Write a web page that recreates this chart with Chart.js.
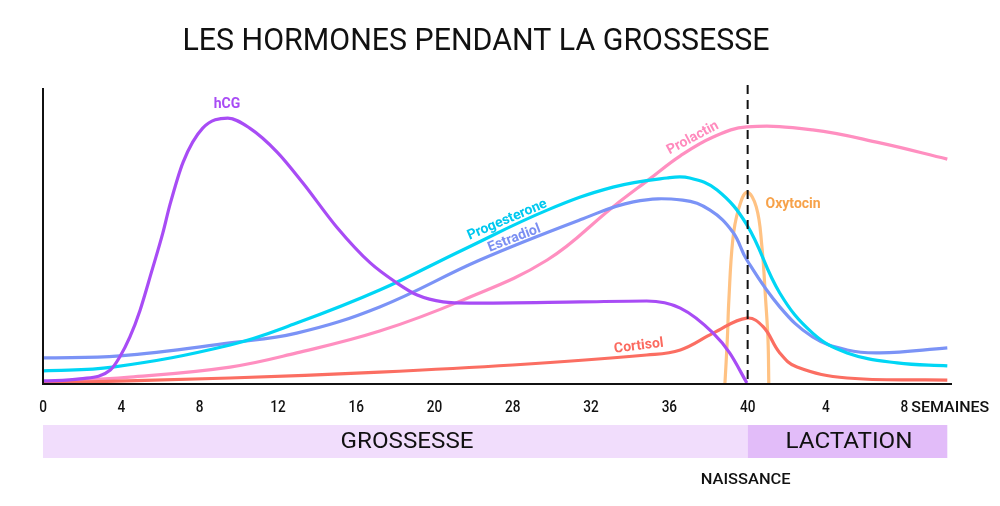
<!DOCTYPE html>
<html>
<head>
<meta charset="utf-8">
<script src="https://cdn.jsdelivr.net/npm/chart.js@4/dist/chart.umd.min.js"></script>
<style>
  html, body { margin: 0; padding: 0; background: #fff; }
  #wrap { width: 1000px; height: 506px; }
</style>
</head>
<body>
<div id="wrap"><canvas id="graph" width="1000" height="506"></canvas></div>
<script>
// x = position on the axis (one unit per tick), y = relative level 0-100
const tickLabels = ['0', '4', '8', '12', '16', '20', '28', '32', '36', '40', '4', '8'];
const phases = ['GROSSESSE', 'LACTATION'];

const hcg = [[0,0.7],[0.47,1.4],[0.86,4.4],[0.98,8.8],[1.11,15.6],[1.24,24.7],[1.39,38],[1.53,50.8],[1.62,60.3],[1.79,74.9],[2.04,86.4],[2.36,89.8],[2.64,86.4],[2.99,78.3],[3.32,67.8],[3.75,52.9],[4.18,40.7],[4.52,33.9],[4.78,29.8],[5.11,27.5],[5.45,27.1],[6.86,27.5],[7.71,27.8],[8.14,25.4],[8.56,16.9],[8.77,10.2],[8.99,0]];
const progesterone = [[0,4.1],[0.89,5.4],[2.39,12.9],[3.24,20.3],[4.3,31.5],[5.36,45.1],[6.44,58.6],[7.28,66.4],[7.97,69.5],[8.26,69.5],[8.61,65.4],[8.99,53.6],[9.41,30.5],[9.83,16.9],[10.27,10.2],[10.91,6.8],[11.55,5.8]];
const estradiol = [[0,8.5],[0.98,9.2],[2.39,13.6],[3.24,16.9],[4.3,25.8],[5.58,41.7],[6.86,55.3],[7.54,61.4],[8.17,62],[8.52,58.6],[8.81,51.2],[8.99,41.7],[9.41,25.8],[9.83,15.6],[10.27,11.2],[10.69,10.2],[11.55,11.9]];
const prolactin = [[0,0.3],[1.11,2],[2.39,5.4],[3.24,10.2],[4.3,17.6],[5.36,28.1],[6.44,41.7],[7.28,59.7],[7.75,69.2],[8.14,77],[8.56,83.4],[8.99,86.8],[9.83,85.8],[10.69,81.4],[11.55,75.9]];
const cortisol = [[0,0],[2.39,1.7],[4.3,3.7],[6,6.1],[7.71,9.5],[8.14,11.2],[8.56,16.9],[8.99,22],[9.2,19],[9.41,10.2],[9.63,5.4],[10.27,1.7],[11.55,1]];
const oxytocin = [[8.71,0],[8.74,14.6],[8.76,28.1],[8.81,48.5],[8.88,58.6],[8.99,64.7],[9.11,59.7],[9.18,46.8],[9.23,28.1],[9.26,14.6],[9.27,0]];

const birthAt = 9; // tick "40"

const series = [
  { name: 'hCG', pts: hcg, color: '#a84cf5', mono: true },
  { name: 'Progesterone', pts: progesterone, color: '#00d6f5' },
  { name: 'Estradiol', pts: estradiol, color: '#7b93f6' },
  { name: 'Cortisol', pts: cortisol, color: '#fb6e62' },
  { name: 'Prolactin', pts: prolactin, color: '#ff8fc0' },
  { name: 'Oxytocin', pts: oxytocin, color: '#ffc283' }
];

// label placement (x in axis units, y in level units), colour, rotation
const curveLabels = [
  { text: 'hCG', x: 2.35, y: 94.5, color: '#a84cf5', rot: 0 },
  { text: 'Progesterone', x: 5.93, y: 55.3, color: '#00c8ef', rot: -23 },
  { text: 'Estradiol', x: 6.02, y: 49, color: '#7b8ff2', rot: -21 },
  { text: 'Prolactin', x: 8.3, y: 83, color: '#ff8abd', rot: -28 },
  { text: 'Cortisol', x: 7.61, y: 12.5, color: '#fb6a5f', rot: -7 },
  { text: 'Oxytocin', x: 9.58, y: 60.5, color: '#f7a24a', rot: 0 }
];

function txt(ctx, s, x, y, font, color, align, sx, maxW) {
  ctx.save();
  ctx.font = font;
  ctx.fillStyle = color;
  ctx.textBaseline = 'middle';
  let w = ctx.measureText(s).width;
  let k = sx || 1;
  if (maxW) k = maxW / w;
  ctx.translate(x, y);
  ctx.scale(k, 1);
  ctx.textAlign = align || 'center';
  ctx.fillText(s, 0, 0);
  ctx.restore();
}

const decor = {
  id: 'decor',
  afterDatasetsDraw(chart) {
    const ctx = chart.ctx;
    const xs = chart.scales.x, ys = chart.scales.y;
    const area = chart.chartArea;
    const bx = xs.getPixelForValue(birthAt);

    // axes
    ctx.save();
    ctx.strokeStyle = '#111';
    ctx.lineWidth = 2;
    ctx.beginPath();
    ctx.moveTo(area.left, area.top);
    ctx.lineTo(area.left, area.bottom + 1);
    ctx.lineTo(area.right, area.bottom + 1);
    ctx.stroke();

    // naissance dashed line
    ctx.setLineDash([9, 6]);
    ctx.beginPath();
    ctx.moveTo(bx, area.top - 3);
    ctx.lineTo(bx, area.bottom);
    ctx.stroke();
    ctx.restore();

    // curve labels
    curveLabels.forEach(l => {
      ctx.save();
      ctx.translate(xs.getPixelForValue(l.x), ys.getPixelForValue(l.y));
      ctx.rotate(l.rot * Math.PI / 180);
      txt(ctx, l.text, 0, 0, 'bold 14px Roboto', l.color, 'center', 1);
      ctx.restore();
    });

    // tick labels
    tickLabels.forEach((t, i) => {
      txt(ctx, t, xs.getPixelForValue(i), 408, '500 16px Roboto', '#111', 'center', 0.85);
    });
    txt(ctx, 'SEMAINES', xs.getPixelForValue(11) + 7, 408, '500 15px Roboto', '#111', 'left', 0, 78);

    // phase bands
    const endX = xs.getPixelForValue(11.55);
    ctx.fillStyle = '#f1ddfc';
    ctx.fillRect(area.left, 425, bx - area.left, 33);
    ctx.fillStyle = '#e2bcf9';
    ctx.fillRect(bx, 425, endX - bx, 33);
    txt(ctx, phases[0], 407, 442, '22px Roboto', '#111', 'center', 0, 133);
    txt(ctx, phases[1], 849, 442, '22px Roboto', '#111', 'center', 0, 127);

    txt(ctx, 'NAISSANCE', bx - 2, 480, '500 14px Roboto', '#111', 'center', 0, 90);

    // title
    txt(ctx, 'LES HORMONES PENDANT LA GROSSESSE', 476, 42, '31px Roboto', '#111', 'center', 0, 587);
  }
};

new Chart(document.getElementById('graph'), {
  type: 'line',
  data: {
    datasets: series.map(s => ({
      label: s.name,
      data: s.pts.map(p => ({ x: p[0], y: p[1] })),
      borderColor: s.color,
      borderWidth: 3.2,
      pointRadius: 0,
      fill: false,
      tension: 0.4,
      cubicInterpolationMode: s.mono ? 'monotone' : 'default'
    }))
  },
  options: {
    responsive: false,
    animation: false,
    layout: { padding: { left: 43, right: 48, top: 88, bottom: 123 } },
    plugins: { legend: { display: false }, tooltip: { enabled: false } },
    scales: {
      x: { type: 'linear', min: 0, max: 11.61, display: false },
      y: { min: 0, max: 100, display: false }
    }
  },
  plugins: [decor]
});
</script>
</body>
</html>
